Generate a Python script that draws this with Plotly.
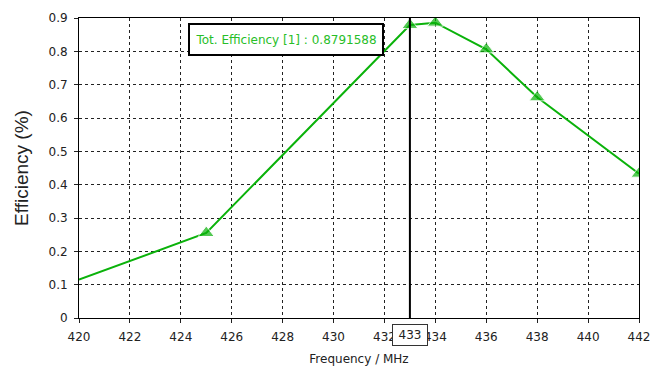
import plotly.graph_objects as go

# Efficiency vs frequency samples
freq_mhz = [420, 425, 433, 434, 436, 438, 442]
efficiency = [0.115, 0.255, 0.8791588, 0.886, 0.806, 0.662, 0.433]
marker_sizes = [0, 14, 14, 14, 14, 14, 14]

x_ticks = [420, 422, 424, 426, 428, 430, 432, 434, 436, 438, 440, 442]
y_ticks = [0, 0.1, 0.2, 0.3, 0.4, 0.5, 0.6, 0.7, 0.8, 0.9]
marker_freq = 433
marker_value = 0.8791588

green = "rgb(10,178,10)"
text_green = "rgb(40,190,40)"
tick_font = dict(family="DejaVu Sans", size=12, color="#222222")

fig = go.Figure()
fig.add_trace(go.Scatter(
    x=freq_mhz, y=efficiency, mode="lines+markers",
    line=dict(color=green, width=2),
    marker=dict(symbol="triangle-up", size=marker_sizes, color=green),
    showlegend=False, hoverinfo="skip",
))

# vertical marker line at the selected frequency
fig.add_shape(type="line", x0=marker_freq, x1=marker_freq, xref="x",
              y0=0, y1=1, yref="paper", line=dict(color="black", width=2))

# frequency readout box on the x axis
fig.add_annotation(
    x=marker_freq, xref="x", y=-0.02, yref="paper", yanchor="top",
    text=str(marker_freq), showarrow=False,
    font=tick_font, bgcolor="white", bordercolor="#333333", borderwidth=1,
    borderpad=2, width=30, height=16,
)

# value readout box
fig.add_annotation(
    x=0.195, xref="x domain", y=0.885, yref="y",
    text=f"Tot. Efficiency [1] : {marker_value}", showarrow=False,
    font=dict(family="DejaVu Sans", size=12, color=text_green),
    bgcolor="white", bordercolor="black", borderwidth=2, borderpad=2,
    width=188, height=25,
    xanchor="left", yanchor="top",
)

fig.update_layout(
    width=666, height=369,
    margin=dict(l=79, r=27, t=11, b=51),
    paper_bgcolor="white", plot_bgcolor="white",
    xaxis=dict(
        range=[420, 442], tickvals=x_ticks, ticktext=[str(v) for v in x_ticks],
        showgrid=True, gridcolor="#222222", griddash="3px,3px", gridwidth=1,
        ticks="outside", ticklen=4, tickcolor="#222222", ticklabelstandoff=4,
        showline=True, linecolor="black", linewidth=1, mirror=True,
        tickfont=tick_font, zeroline=False, automargin=False,
        title=dict(text="Frequency / MHz", font=dict(family="DejaVu Sans", size=12, color="#222222"),
                   standoff=11),
    ),
    yaxis=dict(
        range=[0, 0.9], tickvals=y_ticks, ticktext=[("0" if v == 0 else f"{v:.1f}") for v in y_ticks],
        showgrid=True, gridcolor="#222222", griddash="3px,3px", gridwidth=1,
        ticks="outside", ticklen=4, tickcolor="#222222", ticklabelstandoff=4,
        showline=True, linecolor="black", linewidth=1, mirror=True,
        tickfont=tick_font, zeroline=False,
        title=dict(text="Efficiency (%)", font=dict(family="Liberation Sans", size=19, color="#222222"),
                   standoff=14),
    ),
)

fig.write_html("out.html")
